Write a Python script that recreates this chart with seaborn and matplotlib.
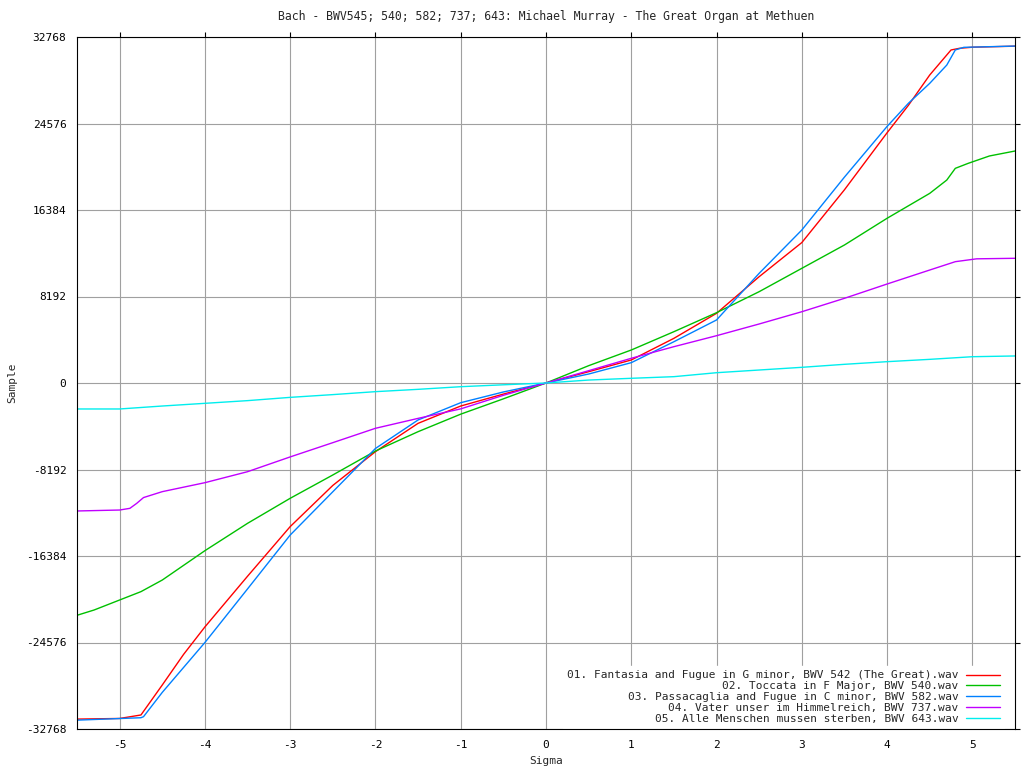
import numpy as np, pandas as pd
import matplotlib
matplotlib.use("Agg")
import matplotlib.pyplot as plt
import seaborn as sns

# du lieu doc tu hinh (sigma -> sample)
labels = ["01. Fantasia and Fugue in G minor, BWV 542 (The Great).wav",
          "02. Toccata in F Major, BWV 540.wav",
          "03. Passacaglia and Fugue in C minor, BWV 582.wav",
          "04. Vater unser im Himmelreich, BWV 737.wav",
          "05. Alle Menschen mussen sterben, BWV 643.wav"]
colors = ["#ff0000", "#00c000", "#0080ff", "#c000ff", "#00eeee"]

red_x = [-5.5, -5.0, -4.75, -4.5, -4.25, -4.0, -3.5, -3.0, -2.5, -2.0, -1.5, -1.0, -0.5, 0.0,
         0.5, 1.0, 1.5, 2.0, 2.5, 3.0, 3.5, 4.0, 4.25, 4.5, 4.75, 4.85, 5.0, 5.5]
red_y = [-31830, -31770, -31440, -28600, -25700, -23100, -18300, -13600, -9700, -6500, -3820, -2180, -1050, 0,
         1070, 2180, 4230, 6600, 10070, 13300, 18300, 23700, 26300, 29170, 31540, 31700, 31800, 31900]

green_x = [-5.5, -5.3, -5.0, -4.75, -4.5, -4.0, -3.5, -3.0, -2.5, -2.0, -1.5, -1.0, -0.5, 0.0,
           0.5, 1.0, 1.5, 2.0, 2.5, 3.0, 3.5, 4.0, 4.5, 4.7, 4.8, 4.95, 5.2, 5.5]
green_y = [-22000, -21500, -20550, -19760, -18660, -15880, -13290, -10920, -8710, -6440, -4610, -2950, -1500, 0,
           1640, 3125, 4860, 6660, 8650, 10860, 13070, 15600, 17960, 19220, 20330, 20800, 21500, 21970]

blue_x = [-5.5, -4.75, -4.72, -4.5, -4.0, -3.5, -3.0, -2.5, -2.0, -1.5, -1.0, -0.5, 0.0,
          0.5, 1.0, 1.5, 2.0, 2.5, 3.0, 3.5, 4.0, 4.25, 4.5, 4.7, 4.8, 4.9, 5.5]
blue_y = [-31930, -31700, -31600, -29300, -24576, -19500, -14400, -10300, -6200, -3500, -1865, -850, 0,
          850, 1925, 3910, 5970, 10390, 14490, 19500, 24300, 26490, 28380, 30110, 31540, 31790, 31910]

purple_x = [-5.5, -5.0, -4.88, -4.8, -4.72, -4.5, -4.0, -3.5, -3.0, -2.5, -2.0, -1.5, -1.0, -0.5, 0.0,
            0.5, 1.0, 1.5, 2.0, 2.5, 3.0, 3.5, 4.0, 4.5, 4.8, 5.05, 5.5]
purple_y = [-12120, -12030, -11870, -11400, -10850, -10290, -9440, -8400, -7000, -5650, -4290, -3350, -2450, -1165, 0,
            1165, 2340, 3440, 4480, 5590, 6750, 8020, 9375, 10700, 11490, 11760, 11810]

cyan_x = [-5.5, -5.0, -4.5, -4.0, -3.5, -3.0, -2.5, -2.0, -1.5, -1.0, -0.5, 0.0,
          0.5, 1.0, 1.5, 2.0, 2.5, 3.0, 3.5, 4.0, 4.5, 5.0, 5.5]
cyan_y = [-2460, -2460, -2180, -1925, -1670, -1360, -1100, -820, -600, -350, -170, 0,
          280, 445, 600, 975, 1230, 1485, 1770, 2020, 2240, 2490, 2560]

series = [(red_x, red_y), (green_x, green_y), (blue_x, blue_y), (purple_x, purple_y), (cyan_x, cyan_y)]

sns.set_style("white")
plt.rcParams["font.family"] = ["DejaVu Sans Mono"]
plt.rcParams["font.size"] = 8
plt.rcParams["axes.unicode_minus"] = False

fig = plt.figure(figsize=(10.24, 7.68), dpi=100)
ax = fig.add_axes([77/1024, 1 - 729/768, (1015-77)/1024, (729-37)/768])

for (xs, ys), lab, col in zip(series, labels, colors):
    df = pd.DataFrame({"sigma": xs, "sample": ys})
    sns.lineplot(data=df, x="sigma", y="sample", color=col, label=lab, lw=1, ax=ax)

ax.set_xlim(-5.5, 5.5)
ax.set_ylim(-32768, 32768)
ax.set_xticks(range(-5, 6))
ax.set_yticks(np.arange(-32768, 32769, 8192))
ax.grid(True, color="#a0a0a0", lw=0.8)
ax.set_axisbelow(True)
for s in ax.spines.values():
    s.set_color("black")
    s.set_linewidth(0.8)
ax.tick_params(direction="out", length=3.6, width=0.8, pad=4, colors="black",
               top=True, right=True, labelsize=8)

ax.set_title("Bach - BWV545; 540; 582; 737; 643: Michael Murray - The Great Organ at Methuen",
             fontsize=8.3, pad=12)
ax.set_xlabel("Sigma", fontsize=8, labelpad=5)
ax.set_ylabel("Sample", fontsize=8, labelpad=6)

leg = ax.legend(loc="lower right", markerfirst=False, frameon=True, fancybox=False,
                facecolor="white", edgecolor="white", framealpha=1,
                fontsize=8, handlelength=3.0, handletextpad=0.7, labelspacing=0.07,
                borderpad=0.4, borderaxespad=0,
                bbox_to_anchor=(1004/1024, 1 - 728/768), bbox_transform=fig.transFigure)
for line in leg.get_lines():
    line.set_linewidth(1)
# legend nam duoi khung truc
leg.set_zorder(2.4)

plt.savefig("out.png", dpi=100)
